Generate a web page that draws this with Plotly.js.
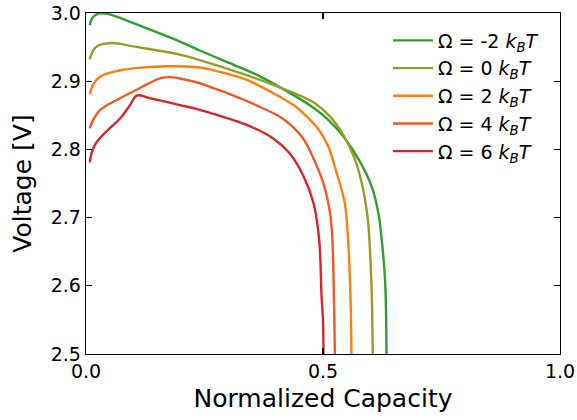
<!DOCTYPE html>
<html>
<head>
<meta charset="utf-8">
<script src="https://cdn.plot.ly/plotly-3.0.1.min.js"></script>
<style>html,body{margin:0;padding:0;background:#fff;}#chart{width:577px;height:420px;}</style>
</head>
<body>
<div id="chart"></div>
<script>
// Omega = -2 kBT
const xM2 = [0.008, 0.012, 0.02, 0.03, 0.05, 0.1, 0.198, 0.24, 0.339, 0.367, 0.444, 0.48, 0.51, 0.543, 0.578, 0.603, 0.617, 0.624, 0.631, 0.633, 0.634];
const yM2 = [2.982, 2.991, 2.997, 2.9995, 2.998, 2.985, 2.958, 2.945, 2.916, 2.907, 2.877, 2.861, 2.844, 2.819, 2.782, 2.745, 2.706, 2.667, 2.608, 2.56, 2.5];
// Omega = 0 kBT
const x0 = [0.008, 0.015, 0.025, 0.04, 0.058, 0.1, 0.198, 0.24, 0.304, 0.367, 0.43, 0.48, 0.515, 0.543, 0.566, 0.582, 0.594, 0.598, 0.603, 0.604, 0.605];
const y0 = [2.932, 2.945, 2.952, 2.955, 2.956, 2.951, 2.939, 2.931, 2.917, 2.902, 2.885, 2.869, 2.848, 2.821, 2.788, 2.750, 2.701, 2.667, 2.584, 2.55, 2.5];
// Omega = 2 kBT
const x2 = [0.008, 0.015, 0.03, 0.072, 0.12, 0.17, 0.24, 0.269, 0.339, 0.409, 0.44, 0.466, 0.49, 0.51, 0.529, 0.546, 0.553, 0.558, 0.559, 0.560];
const y2 = [2.881, 2.895, 2.907, 2.916, 2.920, 2.922, 2.920, 2.916, 2.902, 2.877, 2.864, 2.848, 2.830, 2.806, 2.765, 2.721, 2.667, 2.584, 2.55, 2.5];
// Omega = 4 kBT
const x4 = [0.008, 0.015, 0.03, 0.072, 0.114, 0.156, 0.177, 0.198, 0.24, 0.269, 0.30, 0.339, 0.409, 0.43, 0.458, 0.473, 0.501, 0.515, 0.52, 0.523, 0.524, 0.525];
const y4 = [2.831, 2.843, 2.858, 2.875, 2.890, 2.904, 2.906, 2.904, 2.897, 2.890, 2.882, 2.871, 2.848, 2.837, 2.816, 2.797, 2.750, 2.706, 2.667, 2.584, 2.55, 2.5];
// Omega = 6 kBT
const x6 = [0.008, 0.012, 0.02, 0.035, 0.055, 0.075, 0.092, 0.107, 0.135, 0.198, 0.24, 0.269, 0.339, 0.395, 0.43, 0.458, 0.48, 0.492, 0.497, 0.5, 0.501];
const y6 = [2.781, 2.795, 2.808, 2.821, 2.834, 2.848, 2.864, 2.879, 2.875, 2.865, 2.858, 2.852, 2.836, 2.816, 2.794, 2.762, 2.721, 2.667, 2.584, 2.55, 2.5];

const names = ['Ω = -2 <i>k<sub>B</sub>T</i>', 'Ω = 0 <i>k<sub>B</sub>T</i>', 'Ω = 2 <i>k<sub>B</sub>T</i>', 'Ω = 4 <i>k<sub>B</sub>T</i>', 'Ω = 6 <i>k<sub>B</sub>T</i>'];
const colors = ['#2ca02c', '#9a9a26', '#ff7f0e', '#f05a22', '#d62728'];
const xs = [xM2, x0, x2, x4, x6];
const ys = [yM2, y0, y2, y4, y6];

const xTicks = [0.0, 0.5, 1.0];
const xTickText = ['0.0', '0.5', '1.0'];
const yTicks = [2.5, 2.6, 2.7, 2.8, 2.9, 3.0];
const yTickText = ['2.5', '2.6', '2.7', '2.8', '2.9', '3.0'];

const traces = xs.map((x, i) => ({
  x: x, y: ys[i], name: names[i], type: 'scatter', mode: 'lines',
  line: {color: colors[i], width: 2.4, shape: 'spline', smoothing: 1}
}));

const font = {family: 'DejaVu Sans, sans-serif', color: '#000'};
const layout = {
  width: 577, height: 420,
  margin: {l: 86, r: 17, t: 13, b: 66},
  paper_bgcolor: '#fff', plot_bgcolor: '#fff',
  font: Object.assign({size: 19}, font),
  showlegend: true,
  legend: {x: 0.637, y: 0.975, xanchor: 'left', yanchor: 'top', bgcolor: 'rgba(0,0,0,0)',
           font: Object.assign({size: 19}, font), tracegroupgap: 0, itemwidth: 40},
  xaxis: {
    range: [0, 1], tickvals: xTicks, ticktext: xTickText,
    ticks: 'inside', ticklen: 6, tickwidth: 1.3, tickcolor: '#000',
    showline: true, linecolor: '#000', linewidth: 1.3, mirror: 'ticks',
    showgrid: false, zeroline: false,
    tickfont: Object.assign({size: 19}, font),
    title: {text: 'Normalized Capacity', font: Object.assign({size: 25}, font), standoff: 8}
  },
  yaxis: {
    range: [2.5, 3.0], tickvals: yTicks, ticktext: yTickText,
    ticks: 'inside', ticklen: 6, tickwidth: 1.3, tickcolor: '#000',
    showline: true, linecolor: '#000', linewidth: 1.3, mirror: 'ticks',
    showgrid: false, zeroline: false,
    tickfont: Object.assign({size: 19}, font),
    title: {text: 'Voltage [V]', font: Object.assign({size: 25}, font), standoff: 12}
  }
};

Plotly.newPlot('chart', traces, layout, {displayModeBar: false, staticPlot: true});
</script>
</body>
</html>
